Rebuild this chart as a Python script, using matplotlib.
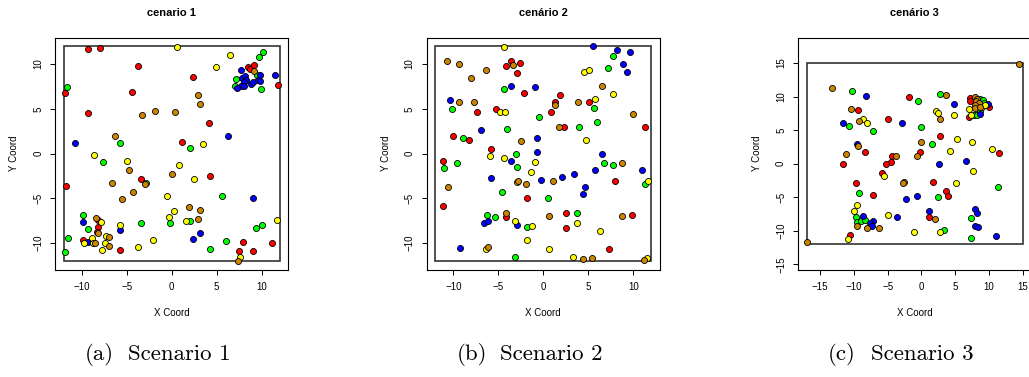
import matplotlib.pyplot as plt
from matplotlib.patches import Rectangle

plt.rcParams['font.family'] = ['Liberation Sans', 'DejaVu Sans']

# Scenario 1 points (x, y) per colour group
s1_red = [(-9.3, 11.7), (-8.0, 11.8), (-3.8, 9.8), (2.4, 8.6), (-4.4, 6.9), (-11.9, 6.8), (-9.3, 4.5),
          (4.1, 3.4), (1.1, 1.3), (4.3, -2.5), (-3.4, -2.8), (7.9, -9.9), (11.2, -10.0), (7.5, -10.9),
          (9.0, -10.9), (-5.7, -10.8), (-11.7, -3.6), (-8.2, -7.4), (-8.2, -8.2), (-8.3, -8.7),
          (-9.9, -9.6), (8.5, 9.7), (8.7, 9.4), (9.2, 9.9), (11.8, 7.7)]
s1_green = [(10.1, 11.4), (9.7, 10.8), (-11.6, 7.4), (-5.7, 1.2), (2.0, 0.6), (-7.6, -0.9), (-2.9, -3.3),
            (5.6, -4.7), (-0.2, -7.7), (2.0, -7.5), (10.0, -8.0), (9.4, -8.3), (6.0, -9.7), (4.3, -10.7),
            (-3.4, -7.8), (-11.9, -11.0), (-11.5, -9.4), (-9.9, -6.9), (-9.3, -8.4), (9.5, 8.8),
            (9.9, 7.2), (7.2, 8.3), (7.0, 7.5)]
s1_blue = [(6.3, 2.0), (-10.7, 1.2), (9.0, -4.9), (3.2, -8.9), (2.4, -9.5), (-5.7, -8.5), (-9.9, -7.6),
           (-9.3, -9.9), (7.7, 9.3), (9.8, 8.8), (11.5, 8.8), (7.8, 8.5), (8.2, 8.7), (8.3, 8.2),
           (8.0, 8.0), (7.7, 7.5), (8.0, 7.5), (7.3, 7.3), (8.8, 7.8), (9.0, 8.0), (9.6, 8.2), (9.8, 8.1)]
s1_yellow = [(0.6, 11.9), (6.5, 11.0), (4.9, 9.7), (3.5, 1.1), (-8.6, -0.1), (-5.0, -0.8), (0.8, -1.3),
             (2.5, -2.8), (-0.5, -4.7), (0.3, -6.4), (-0.3, -7.1), (1.6, -7.5), (11.7, -7.4),
             (7.6, -11.5), (-2.1, -9.6), (-3.7, -10.4), (-5.8, -8.0), (-7.9, -7.6), (-9.8, -10.0),
             (-8.9, -9.4), (-8.8, -10.0), (-7.3, -9.2), (-7.4, -10.0), (-7.7, -10.8)]
s1_brown = [(2.9, 6.6), (3.2, 5.5), (-1.9, 4.8), (-3.3, 4.3), (0.4, 4.6), (-6.3, 2.0), (-4.7, -1.8),
            (0.0, -2.3), (-3.0, -3.4), (-6.6, -3.3), (-4.3, -4.3), (-5.5, -5.1), (1.9, -6.0),
            (3.2, -6.3), (2.9, -7.3), (7.4, -12.0), (-8.4, -7.2), (-8.2, -8.9), (-8.5, -10.0),
            (-7.0, -9.3), (-7.0, -10.3), (9.1, 9.2)]

# Scenario 2
s2_red = [(-3.6, 10.3), (-4.1, 9.8), (-2.6, 10.1), (-2.9, 9.0), (-2.1, 6.8), (-7.4, 4.6), (-5.3, 5.0),
          (0.9, 4.7), (1.3, 5.8), (1.9, 6.5), (5.1, 5.8), (11.3, 3.0), (2.3, 3.0), (-10.0, 2.0),
          (-8.3, 1.5), (-5.8, 0.5), (-11.2, -0.8), (8.0, -3.1), (-1.8, -4.9), (-11.1, -5.8),
          (-4.2, -7.1), (2.5, -6.6), (2.5, -8.3), (9.9, -6.8), (7.3, -10.6)]
s2_green = [(7.7, 10.9), (7.2, 9.6), (-4.4, 7.2), (-10.1, 5.0), (-0.5, 4.1), (5.6, 5.1), (4.0, 3.0),
            (6.0, 3.5), (-4.0, 2.8), (-8.9, 1.8), (-3.0, 0.0), (-2.9, -1.5), (-11.0, -1.6),
            (-9.6, -1.1), (6.8, -1.1), (7.7, -1.3), (11.3, -3.4), (-4.6, -4.3), (0.5, -5.0),
            (-6.3, -6.8), (-5.4, -7.1), (-1.8, -8.2), (3.7, -6.6), (-3.2, -11.5)]
s2_blue = [(5.5, 12.0), (8.2, 11.6), (9.6, 11.3), (8.9, 10.0), (9.3, 9.1), (-3.6, 7.6), (-0.9, 7.4),
           (-10.4, 6.0), (-6.9, 2.6), (-0.7, 1.8), (-0.7, 0.2), (-3.6, -0.8), (6.5, 0.0), (5.7, -1.8),
           (11.0, -1.8), (-5.8, -2.7), (-0.3, -2.9), (2.1, -2.6), (3.4, -2.3), (4.6, -3.7),
           (4.4, -4.5), (-6.6, -7.7), (-6.2, -7.5), (-2.9, -8.0), (-9.3, -10.5)]
s2_yellow = [(-4.4, 11.9), (4.5, 9.1), (5.1, 9.3), (7.8, 6.7), (-4.8, 4.6), (-4.3, 4.6), (5.7, 6.1),
             (4.7, 1.5), (-5.9, -0.3), (-4.4, -0.5), (-0.9, -0.9), (-1.4, -2.0), (11.6, -3.0),
             (-2.9, -3.2), (-3.1, -7.5), (-1.3, -8.1), (3.7, -7.8), (6.3, -8.6), (-1.8, -9.6),
             (-6.4, -10.6), (0.6, -10.6), (3.3, -11.5), (11.5, -11.6)]
s2_brown = [(-10.7, 10.3), (-9.4, 10.0), (-3.4, 9.9), (-6.4, 9.3), (-8.0, 8.5), (6.5, 7.5), (-9.4, 5.8),
            (-7.7, 5.8), (1.3, 5.4), (3.9, 5.8), (10.0, 4.4), (1.7, 3.0), (-2.5, 1.4), (8.8, -1.0),
            (-2.8, -3.0), (-1.9, -3.4), (1.1, -3.0), (-10.6, -3.7), (-4.1, -6.6), (0.6, -7.0),
            (8.8, -7.0), (-6.1, -10.4), (4.4, -11.8), (5.4, -11.7), (11.2, -11.9)]

# Scenario 3
s3_red = [(-1.9, 9.9), (-9.4, 8.0), (-4.9, 6.7), (2.7, 4.2), (-0.2, 1.8), (11.5, 1.6), (-11.6, 0.0),
          (-8.3, 1.8), (-4.3, 1.1), (-4.5, 0.2), (-5.2, 0.0), (-5.8, -1.4), (-9.7, -2.8), (1.7, -2.7),
          (-7.1, -4.7), (3.7, -4.1), (4.0, -4.8), (-10.6, -10.6), (1.2, -8.0), (7.2, 9.8), (7.2, 9.3),
          (10.0, 8.4), (7.1, 7.0)]
s3_green = [(-10.3, 10.9), (-0.5, 9.3), (2.8, 10.4), (-10.7, 5.6), (-7.2, 4.9), (-0.1, 5.5), (1.6, 3.0),
            (11.3, -3.4), (-9.3, -4.3), (2.5, -5.0), (-9.7, -8.0), (-9.5, -8.7), (-9.0, -8.6),
            (-8.4, -8.4), (3.3, -9.8), (7.3, -8.1), (7.3, -11.0), (8.7, 9.7), (9.1, 9.5), (9.3, 9.1),
            (8.7, 7.8), (7.8, 7.3), (8.3, 7.3)]
s3_blue = [(-8.2, 10.1), (4.9, 8.9), (-2.9, 6.0), (-11.6, 6.1), (6.6, 0.4), (2.6, -0.1), (-9.6, 2.9),
           (-2.3, -5.3), (-0.6, -4.8), (-8.6, -7.8), (-7.2, -8.5), (-7.6, -8.9), (-7.3, -9.2),
           (-3.6, -7.9), (1.2, -7.1), (8.0, -6.8), (8.3, -7.4), (8.0, -9.2), (8.4, -9.4),
           (11.1, -10.8), (9.9, 8.9), (8.7, 7.4)]
s3_yellow = [(-8.7, 6.6), (-8.0, 6.0), (2.1, 7.9), (2.4, 7.6), (4.9, 7.2), (5.3, 3.7), (4.3, 1.9),
             (7.5, 3.3), (10.5, 2.2), (7.7, -1.1), (-5.6, -1.8), (5.1, -2.9), (-9.5, -6.2),
             (-10.0, -7.1), (-5.0, -7.6), (-10.8, -11.2), (-1.1, -10.1), (2.8, -10.2), (9.0, 8.5),
             (7.0, 8.1), (7.3, 7.3), (9.5, 8.7)]
s3_brown = [(14.5, 14.8), (-16.9, -11.7), (-13.3, 11.3), (3.6, 10.3), (-10.4, 8.1), (-9.3, 6.3),
            (2.7, 6.6), (0.0, 3.2), (-0.7, 1.2), (-11.2, 1.5), (-9.4, 2.6), (-3.8, 1.2), (-2.6, -2.7),
            (-2.7, -2.9), (-9.5, -9.2), (-8.0, -9.5), (-6.3, -9.5), (2.0, -8.3), (7.9, 9.9),
            (8.3, 9.6), (8.1, 9.3), (8.6, 9.0), (8.0, 8.8), (8.0, 8.3), (8.7, 8.4)]

titles = ['cenario 1', 'cenário 2', 'cenário 3']
cap_tags = ['(a)', '(b)', '(c)']
cap_names = ['Scenario 1', 'Scenario 2', 'Scenario 3']
colors = {'red': '#FF0000', 'green': '#00FF00', 'blue': '#0000FF',
          'yellow': '#FFFF00', 'brown': '#CD8500'}

panels = [
    {'groups': [('red', s1_red), ('green', s1_green), ('blue', s1_blue),
                ('yellow', s1_yellow), ('brown', s1_brown)],
     'rect': (-12, -12, 12, 12), 'xlim': (-12.96, 12.96), 'ylim': (-12.96, 12.96),
     'ticks': [-10, -5, 0, 5, 10], 'left': 55.1},
    {'groups': [('red', s2_red), ('green', s2_green), ('blue', s2_blue),
                ('yellow', s2_yellow), ('brown', s2_brown)],
     'rect': (-12, -12, 12, 12), 'xlim': (-12.96, 12.96), 'ylim': (-12.96, 12.96),
     'ticks': [-10, -5, 0, 5, 10], 'left': 426.7},
    {'groups': [('red', s3_red), ('green', s3_green), ('blue', s3_blue),
                ('yellow', s3_yellow), ('brown', s3_brown)],
     'rect': (-17, -12, 15, 15), 'xlim': (-18.28, 16.28), 'ylim': (-15.78, 18.78),
     'ticks': [-15, -10, -5, 0, 5, 10, 15], 'left': 798.0},
]
caption_left = [85, 457, 828]

W, H = 1029, 377
fig = plt.figure(figsize=(W / 100, H / 100), dpi=100)

ax_w, ax_h = 233.2, 232.1
ax_top = 37.6

for i, p in enumerate(panels):
    ax = fig.add_axes([p['left'] / W, 1 - (ax_top + ax_h) / H, ax_w / W, ax_h / H])
    for name, pts in p['groups']:
        xs = [q[0] for q in pts]
        ys = [q[1] for q in pts]
        ax.scatter(xs, ys, s=19, c=colors[name], edgecolors='black', linewidths=0.6, zorder=3)
    x0, y0, x1, y1 = p['rect']
    ax.add_patch(Rectangle((x0, y0), x1 - x0, y1 - y0, fill=False,
                           edgecolor='#333333', linewidth=1.2, zorder=2))
    ax.set_xlim(*p['xlim'])
    ax.set_ylim(*p['ylim'])
    ax.set_xticks(p['ticks'])
    ax.set_yticks(p['ticks'])
    ax.tick_params(direction='out', length=3.6, width=0.7, pad=5, labelsize=7)
    for lab in ax.get_yticklabels():
        lab.set_rotation(90)
        lab.set_va('center')
    for sp in ax.spines.values():
        sp.set_linewidth(0.8)
    ax.text(0.5, -43 / ax_h, 'X Coord', transform=ax.transAxes, ha='center', va='center', fontsize=7)
    ax.text(-41 / ax_w, 0.5, 'Y Coord', transform=ax.transAxes, ha='center', va='center',
            rotation=90, fontsize=7)
    ax.text(0.5, 1 + 24.5 / ax_h, titles[i], transform=ax.transAxes, ha='center', va='center',
            fontsize=8, fontweight='bold')
    # subfigure caption: tag and name with a LaTeX-like gap
    fig.text(caption_left[i] / W, 1 - 359.5 / H, cap_tags[i], family='cmr10', fontsize=16.5,
             ha='left', va='baseline')
    fig.text((caption_left[i] + 43) / W, 1 - 359.5 / H, cap_names[i], family='cmr10', fontsize=16.5,
             ha='left', va='baseline')

fig.savefig('out.png', dpi=100)
